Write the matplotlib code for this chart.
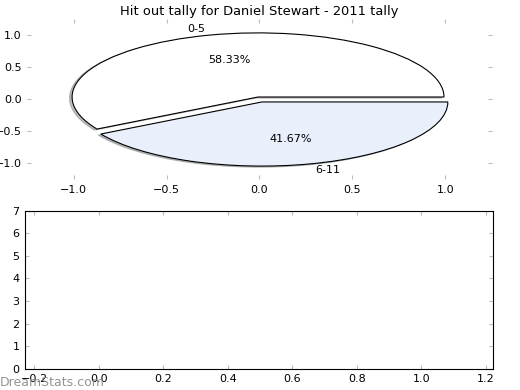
import numpy as np
import matplotlib
matplotlib.use("Agg")
import matplotlib.pyplot as plt

# hit out counts per bucket
labels = ["0-5", "6-11"]
counts = [7, 5]
colors = ["#ffffff", "#e9f0fc"]
explode = [0.03, 0.05]

title = "Hit out tally for Daniel Stewart - 2011 tally"
pie_ticks = [-1.0, -0.5, 0.0, 0.5, 1.0]
bar_xticks = [-0.2, 0.0, 0.2, 0.4, 0.6, 0.8, 1.0, 1.2]
bar_yticks = [0, 1, 2, 3, 4, 5, 6, 7]

fig = plt.figure(figsize=(5.2, 3.9), dpi=100)

ax1 = fig.add_axes([0.052, 0.541, 0.894, 0.411])
wedges, texts, autotexts = ax1.pie(counts, labels=labels, colors=colors, explode=explode,
                                   autopct="%.2f%%", frame=False,
                                   shadow={"ox": -0.01, "oy": -0.012, "shade": 0.5},
                                   wedgeprops={"edgecolor": "black", "linewidth": 0.8},
                                   textprops={"fontsize": 8})
ax1.set_aspect("auto")
ax1.set_xlim(-1.25, 1.25)
ax1.set_ylim(-1.25, 1.25)
ax1.set_xticks(pie_ticks)
ax1.set_yticks(pie_ticks)
ax1.tick_params(direction="in", color="#bbbbbb", length=3, labelsize=8,
                top=True, right=True, pad=4)
ax1.set_title(title, fontsize=9.4, pad=3)

ax2 = fig.add_axes([0.048, 0.054, 0.9, 0.406])
ax2.set_xlim(-0.229, 1.222)
ax2.set_ylim(0, 7)
ax2.set_xticks(bar_xticks)
ax2.set_yticks(bar_yticks)
ax2.tick_params(direction="in", color="#bbbbbb", length=3, labelsize=8,
                top=True, right=True, pad=4)
for s in ax2.spines.values():
    s.set_linewidth(0.8)

fig.text(0.0, 0.01, "DreamStats.com", fontsize=9, color="#888888", alpha=0.9)

fig.savefig("out.png", dpi=100)
